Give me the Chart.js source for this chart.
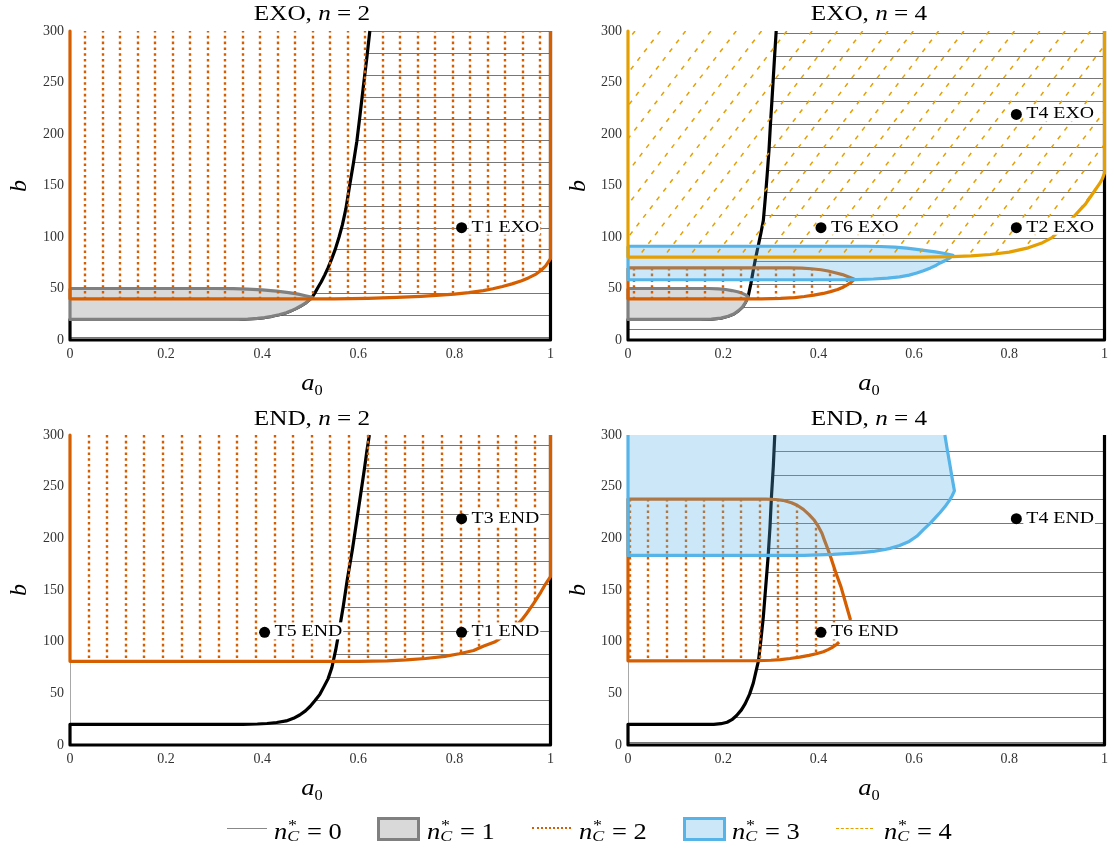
<!DOCTYPE html>
<html>
<head>
<meta charset="utf-8">
<title>n*C regions</title>
<script src="https://cdn.jsdelivr.net/npm/chart.js@4.4.1/dist/chart.umd.min.js"></script>
<style>
  body { margin: 0; background: #fff; }
  #page { position: relative; width: 1114px; height: 850px; overflow: hidden; font-family: "Liberation Serif", serif; color: #000; }
  canvas { position: absolute; }
  .t { position: absolute; white-space: nowrap; line-height: 1; }
  .ttl { font-size: 21px; transform: translate(-50%, -50%) scaleX(1.2); }
  .yl { font-size: 24px; font-style: italic; transform: translate(-50%, -50%) rotate(-90deg); }
  .xl { font-size: 23px; transform: translate(-50%, -50%) scaleX(1.15); }
  .xl sub { font-size: 0.62em; font-style: normal; }
  .lg { position: absolute; top: 816px; font-size: 23px; line-height: 24px; white-space: nowrap; transform-origin: left center; transform: scaleX(1.15); }
  .ss { display: inline-block; position: relative; width: 0.5em; height: 1em; }
  .ss .sp { position: absolute; left: 0.05em; top: -0.2em; font-size: 0.68em; }
  .ss .sb { position: absolute; left: 0; top: 0.5em; font-size: 0.68em; font-style: italic; }
  .sw { position: absolute; box-sizing: border-box; }
</style>
</head>
<body>
<div id="page">
  <canvas id="exo2" width="560" height="400" style="left:0;top:0"></canvas>
  <canvas id="exo4" width="556" height="400" style="left:558px;top:0"></canvas>
  <canvas id="end2" width="560" height="400" style="left:0;top:404px"></canvas>
  <canvas id="end4" width="556" height="400" style="left:558px;top:404px"></canvas>

  <div class="t ttl" style="left:312px;top:13px">EXO, <i>n</i> = 2</div>
  <div class="t ttl" style="left:869px;top:13px">EXO, <i>n</i> = 4</div>
  <div class="t ttl" style="left:312px;top:418px">END, <i>n</i> = 2</div>
  <div class="t ttl" style="left:869px;top:418px">END, <i>n</i> = 4</div>

  <div class="t yl" style="left:18px;top:186px">b</div>
  <div class="t yl" style="left:577px;top:186px">b</div>
  <div class="t yl" style="left:18px;top:590px">b</div>
  <div class="t yl" style="left:577px;top:590px">b</div>

  <div class="t xl" style="left:312px;top:384px"><i>a</i><sub>0</sub></div>
  <div class="t xl" style="left:869px;top:384px"><i>a</i><sub>0</sub></div>
  <div class="t xl" style="left:312px;top:789px"><i>a</i><sub>0</sub></div>
  <div class="t xl" style="left:869px;top:789px"><i>a</i><sub>0</sub></div>

  <!-- legend -->
  <div class="sw" style="left:227px;top:828px;width:40px;border-top:1.5px solid #888"></div>
  <div class="lg" style="left:274px"><i>n</i><span class="ss"><span class="sp">*</span><span class="sb">C</span></span> = 0</div>
  <div class="sw" style="left:377px;top:817px;width:43px;height:24px;border:3px solid #808080;background:#d9d9d9"></div>
  <div class="lg" style="left:427px"><i>n</i><span class="ss"><span class="sp">*</span><span class="sb">C</span></span> = 1</div>
  <div class="sw" style="left:532px;top:827px;width:39px;border-top:2.5px dotted #d55e00"></div>
  <div class="lg" style="left:579px"><i>n</i><span class="ss"><span class="sp">*</span><span class="sb">C</span></span> = 2</div>
  <div class="sw" style="left:683px;top:817px;width:43px;height:24px;border:3px solid #56b4e9;background:#cce7f8"></div>
  <div class="lg" style="left:732px"><i>n</i><span class="ss"><span class="sp">*</span><span class="sb">C</span></span> = 3</div>
  <div class="sw" style="left:836px;top:828px;width:37px;border-top:1.6px dashed #e69f00"></div>
  <div class="lg" style="left:884px"><i>n</i><span class="ss"><span class="sp">*</span><span class="sb">C</span></span> = 4</div>
</div>

<script>
// axis ticks
const aTicks = [0, 0.2, 0.4, 0.6, 0.8, 1];
const aTickLabels = ['0', '0.2', '0.4', '0.6', '0.8', '1'];
const bTicks = [0, 50, 100, 150, 200, 250, 300];

// region outlines, points are [a0, b]

// EXO, n = 2
const exo2Zero = [[0.624, 300], [0.618, 275], [0.611, 248], [0.604, 220], [0.597, 193], [0.59, 172], [0.582, 150],
  [0.574, 127], [0.567, 112], [0.56, 100], [0.552, 88], [0.544, 78], [0.537, 70], [0.53, 63], [0.523, 56.5],
  [0.516, 51], [0.51, 46], [0.504, 41.5], [0.497, 38.5], [0.489, 35.5], [0.48, 33], [0.47, 30.5], [0.46, 28.3],
  [0.45, 26.5], [0.435, 24.5], [0.42, 23], [0.405, 21.8], [0.39, 21], [0.37, 20.4], [0.35, 20.1], [0.32, 20],
  [0, 20], [0, 0], [1, 0], [1, 300]];
const exo2One = [[0, 50], [0.3, 50], [0.34, 49.8], [0.37, 49.4], [0.4, 48.6], [0.43, 47.5], [0.455, 46], [0.475, 44.5],
  [0.49, 43], [0.504, 41.5], [0.497, 38.5], [0.489, 35.5], [0.48, 33], [0.47, 30.5], [0.46, 28.3], [0.45, 26.5],
  [0.435, 24.5], [0.42, 23], [0.405, 21.8], [0.39, 21], [0.37, 20.4], [0.35, 20.1], [0.32, 20], [0, 20], [0, 50]];
const exo2Two = [[0, 300], [0, 40], [0.55, 40], [0.62, 40.5], [0.68, 41.3], [0.73, 42.3], [0.77, 43.5], [0.8, 44.5],
  [0.83, 46], [0.86, 48], [0.88, 49.8], [0.9, 52], [0.92, 54.5], [0.94, 57.5], [0.955, 60.5], [0.97, 64],
  [0.98, 67.5], [0.99, 72], [1, 79], [1, 300]];
const exo2Pts = [[0.815, 109]];
const exo2Tags = ['T1 EXO'];

// EXO, n = 4
const exo4Zero = [[0.311, 300], [0.308, 278], [0.305, 255], [0.302, 232], [0.299, 210], [0.296, 185], [0.292, 160],
  [0.288, 137], [0.284, 116], [0.279, 104], [0.274, 93], [0.268, 80], [0.263, 68], [0.258, 55], [0.252, 42],
  [0.246, 36], [0.24, 32], [0.232, 28.5], [0.222, 25.3], [0.21, 23], [0.195, 21.2], [0.175, 20.2], [0.15, 20],
  [0, 20], [0, 0], [1, 0], [1, 300]];
const exo4One = [[0, 50], [0.17, 50], [0.19, 49.6], [0.205, 49], [0.218, 48], [0.23, 46.8], [0.24, 45.3],
  [0.247, 43.8], [0.252, 42], [0.246, 36], [0.24, 32], [0.232, 28.5], [0.222, 25.3], [0.21, 23], [0.195, 21.2],
  [0.175, 20.2], [0.15, 20], [0, 20], [0, 50]];
const exo4Two = [[0, 70], [0.34, 70], [0.365, 69.8], [0.385, 69.2], [0.405, 68.2], [0.42, 67], [0.435, 65.3],
  [0.45, 63.5], [0.462, 61.5], [0.475, 59], [0.468, 56], [0.46, 53.5], [0.45, 51], [0.44, 49], [0.425, 47],
  [0.41, 45.2], [0.39, 43.5], [0.37, 42.2], [0.35, 41.2], [0.32, 40.5], [0.28, 40], [0, 40], [0, 70]];
const exo4Three = [[0, 91], [0.5, 91], [0.53, 90.8], [0.56, 90.2], [0.585, 89.2], [0.606, 88], [0.625, 86.8],
  [0.645, 85.5], [0.665, 84], [0.682, 82.3], [0.675, 79.5], [0.665, 77], [0.655, 74.8], [0.647, 72.6], [0.635, 70],
  [0.62, 67.3], [0.606, 65], [0.59, 63], [0.57, 61.3], [0.545, 60], [0.515, 59.2], [0.48, 58.7], [0.44, 58.5],
  [0, 58.5], [0, 91]];
const exo4Four = [[0, 300], [0, 80.5], [0.62, 80.5], [0.68, 81], [0.72, 81.7], [0.76, 83], [0.8, 85.3], [0.84, 89.5],
  [0.87, 94.5], [0.89, 99.4], [0.91, 108.5], [0.93, 117], [0.95, 127], [0.96, 132], [0.975, 142], [0.99, 152],
  [0.995, 156], [1, 162], [1, 300]];
const exo4Pts = [[0.405, 109], [0.815, 109], [0.815, 219]];
const exo4Tags = ['T6 EXO', 'T2 EXO', 'T4 EXO'];

// END, n = 2
const end2Zero = [[0.623, 300], [0.618, 285], [0.613, 268], [0.605, 243], [0.597, 218], [0.588, 190], [0.577, 160],
  [0.569, 135], [0.56, 110], [0.553, 92], [0.545, 75], [0.537, 64], [0.528, 56], [0.52, 49], [0.51, 43],
  [0.5, 37.5], [0.49, 33], [0.478, 29], [0.465, 25.8], [0.45, 23.3], [0.43, 21.8], [0.41, 20.8], [0.39, 20.3],
  [0.36, 20], [0, 20], [0, 0], [1, 0], [1, 300]];
const end2Two = [[0, 300], [0, 81], [0.6, 81], [0.66, 81.5], [0.7, 82.3], [0.74, 83.7], [0.78, 85.8], [0.81, 88.3],
  [0.84, 91.5], [0.86, 95.5], [0.885, 100], [0.9, 104.5], [0.92, 111.5], [0.94, 121], [0.95, 127], [0.965, 137],
  [0.98, 148], [0.99, 156], [1, 163], [1, 300]];
const end2Pts = [[0.405, 109], [0.815, 109], [0.815, 219]];
const end2Tags = ['T5 END', 'T1 END', 'T3 END'];

// END, n = 4
const end4Zero = [[0.308, 300], [0.305, 270], [0.301, 240], [0.298, 211], [0.294, 182], [0.289, 153], [0.284, 124],
  [0.279, 102], [0.274, 82], [0.268, 70], [0.263, 60], [0.255, 49], [0.246, 40], [0.238, 34], [0.228, 28.5],
  [0.218, 24.5], [0.208, 22], [0.195, 20.6], [0.18, 20], [0, 20], [0, 0], [1, 0], [1, 300]];
const end4Two = [[0.443, 99.5], [0.437, 97], [0.43, 94.8], [0.42, 92.3], [0.41, 90.3], [0.395, 88.3], [0.38, 86.7],
  [0.36, 85], [0.34, 83.7], [0.32, 82.7], [0.3, 82], [0.27, 81.6], [0, 81.5], [0, 238], [0.29, 238], [0.31, 237.6],
  [0.325, 236.8], [0.343, 234.5], [0.355, 232], [0.368, 228], [0.38, 223], [0.39, 218], [0.4, 211], [0.407, 205],
  [0.412, 198.5], [0.419, 190], [0.426, 181], [0.436, 167], [0.447, 153], [0.457, 137], [0.467, 121]];
const end4Three = [[0.665, 300], [0.67, 286], [0.675, 272.6], [0.68, 259], [0.685, 246], [0.68, 241], [0.675, 237],
  [0.665, 230.5], [0.655, 225], [0.647, 221], [0.635, 215], [0.62, 208.5], [0.606, 202], [0.59, 197], [0.57, 193],
  [0.55, 190.3], [0.537, 189], [0.515, 187.3], [0.49, 186.2], [0.467, 185.5], [0.43, 184.5], [0.4, 184],
  [0.37, 183.5], [0, 183.5], [0, 300]];
const end4Pts = [[0.405, 109], [0.815, 219]];
const end4Tags = ['T6 END', 'T4 END'];

const ORANGE = '#d55e00', BLUE = '#56b4e9', YELLOW = '#e69f00', GREY = '#808080';

const toXY = arr => arr.map(p => ({x: p[0], y: p[1]}));

// hatching inside a clipped region
function drawHatch(ctx, area, h) {
  ctx.lineWidth = h.width;
  ctx.strokeStyle = h.color;
  ctx.setLineDash(h.dash || []);
  ctx.beginPath();
  if (h.dir === 'h') {
    for (let y = area.bottom - h.offset; y >= area.top - 1; y -= h.gap) {
      const yy = Math.round(y) + 0.5;
      ctx.moveTo(area.left, yy);
      ctx.lineTo(area.right, yy);
    }
  } else if (h.dir === 'v') {
    for (let x = area.left + h.offset; x <= area.right + 1; x += h.gap) {
      const xx = Math.round(x);
      ctx.moveTo(xx, area.bottom);
      ctx.lineTo(xx, area.top);
    }
  } else {
    const run = (area.bottom - area.top) / h.slope;
    for (let x = area.left + h.offset; x <= area.right + run; x += h.gap) {
      ctx.moveTo(x, area.top);
      ctx.lineTo(x - run, area.bottom);
    }
  }
  ctx.stroke();
}

const regionPlugin = {
  id: 'regions',
  beforeDatasetDraw(chart, args) {
    const ds = chart.data.datasets[args.index];
    if (!ds.paint) return;
    const ctx = chart.ctx, area = chart.chartArea;
    ctx.save();
    ctx.beginPath();
    ctx.rect(area.left, area.top, area.right - area.left, area.bottom - area.top);
    ctx.clip();
    ctx.beginPath();
    args.meta.data.forEach((p, k) => k ? ctx.lineTo(p.x, p.y) : ctx.moveTo(p.x, p.y));
    ctx.closePath();
    if (ds.paint.fill) {
      ctx.fillStyle = ds.paint.fill;
      ctx.fill();
    }
    if (ds.paint.hatch) {
      ctx.clip();
      drawHatch(ctx, area, ds.paint.hatch);
    }
    ctx.restore();
  }
};

const tagPlugin = {
  id: 'tags',
  afterDatasetsDraw(chart) {
    const ctx = chart.ctx;
    chart.data.datasets.forEach((ds, i) => {
      if (!ds.tags) return;
      ctx.save();
      ctx.font = '16.5px "Liberation Serif"';
      ctx.textBaseline = 'alphabetic';
      chart.getDatasetMeta(i).data.forEach((p, k) => {
        const t = ds.tags[k];
        const w = ctx.measureText(t).width * 1.2;
        const x = p.x + 10, y = p.y + 4;
        ctx.fillStyle = '#fff';
        ctx.fillRect(x - 3, y - 14, w + 4, 17);
        ctx.fillStyle = '#000';
        ctx.save();
        ctx.translate(x, y);
        ctx.scale(1.2, 1);
        ctx.fillText(t, 0, 0);
        ctx.restore();
      });
      ctx.restore();
    });
  }
};

function hH(gap, offset) { return {dir: 'h', gap, offset, width: 1, color: '#777'}; }
function hV(gap, offset) { return {dir: 'v', gap, offset, width: 2.4, color: ORANGE, dash: [2.6, 3.2]}; }
function hD(gap, offset) { return {dir: 'd', gap, offset, slope: 1.3, width: 1.5, color: YELLOW, dash: [4.5, 6.5]}; }

function makeChart(id, layers, pts, tags, box) {
  const datasets = layers.map(l => ({
    data: toXY(l.pts),
    showLine: true,
    borderColor: l.color,
    borderWidth: 3.2,
    borderJoinStyle: 'round',
    pointRadius: 0,
    fill: false,
    tension: 0,
    clip: 3,
    paint: l.paint
  }));
  datasets.push({
    data: toXY(pts),
    showLine: false,
    pointRadius: 5.5,
    pointBackgroundColor: '#000',
    pointBorderWidth: 0,
    tags: tags
  });
  // first listed is drawn first
  datasets.forEach((d, i) => { d.order = -i; });

  const tickFont = {family: 'Liberation Serif', size: 14};
  return new Chart(document.getElementById(id), {
    type: 'scatter',
    data: {datasets},
    options: {
      responsive: false,
      animation: false,
      events: [],
      layout: {padding: {top: box.top, right: box.right, left: 0, bottom: 0}},
      plugins: {legend: {display: false}, tooltip: {enabled: false}},
      scales: {
        x: {
          type: 'linear', min: 0, max: 1,
          afterBuildTicks: s => { s.ticks = aTicks.map(v => ({value: v})); },
          afterFit: s => { s.height = box.xh; },
          grid: {display: false, drawTicks: false},
          border: {color: '#a8a8a8', width: 1},
          ticks: {padding: 6, color: '#333', font: tickFont, maxRotation: 0, autoSkip: false,
            callback: (v, i) => aTickLabels[i]}
        },
        y: {
          type: 'linear', min: 0, max: 300,
          afterBuildTicks: s => { s.ticks = bTicks.map(v => ({value: v})); },
          afterFit: s => { s.width = 70; },
          grid: {display: false, drawTicks: false},
          border: {color: '#a8a8a8', width: 1},
          ticks: {padding: 6, color: '#333', font: tickFont, autoSkip: false,
            callback: (v, i) => String(bTicks[i])}
        }
      }
    },
    plugins: [regionPlugin, tagPlugin]
  });
}

makeChart('exo2', [
  {pts: exo2Zero, color: '#000', paint: {hatch: hH(21.8, 3.3)}},
  {pts: exo2One, color: GREY, paint: {fill: '#d9d9d9'}},
  {pts: exo2Two, color: ORANGE, paint: {hatch: hV(17.5, 15.4)}}
], exo2Pts, exo2Tags, {top: 31, right: 6, xh: 60});

makeChart('exo4', [
  {pts: exo4Zero, color: '#000', paint: {hatch: hH(22.8, 10.7)}},
  {pts: exo4One, color: GREY, paint: {fill: '#d9d9d9'}},
  {pts: exo4Two, color: ORANGE, paint: {hatch: hV(17.8, 5.7)}},
  {pts: exo4Three, color: BLUE, paint: {fill: 'rgba(86,180,233,0.3)'}},
  {pts: exo4Four, color: YELLOW, paint: {hatch: hD(25.3, 7)}}
], exo4Pts, exo4Tags, {top: 31, right: 4, xh: 60});

makeChart('end2', [
  {pts: end2Zero, color: '#000', paint: {hatch: hH(23.25, 21.3)}},
  {pts: end2Two, color: ORANGE, paint: {hatch: hV(18.6, 18.6)}}
], end2Pts, end2Tags, {top: 31, right: 6, xh: 59});

makeChart('end4', [
  {pts: end4Zero, color: '#000', paint: {hatch: hH(24.25, 3.3)}},
  {pts: end4Two, color: ORANGE, paint: {hatch: hV(18.6, 1.7)}},
  {pts: end4Three, color: BLUE, paint: {fill: 'rgba(86,180,233,0.3)'}}
], end4Pts, end4Tags, {top: 31, right: 4, xh: 59});
</script>
</body>
</html>
